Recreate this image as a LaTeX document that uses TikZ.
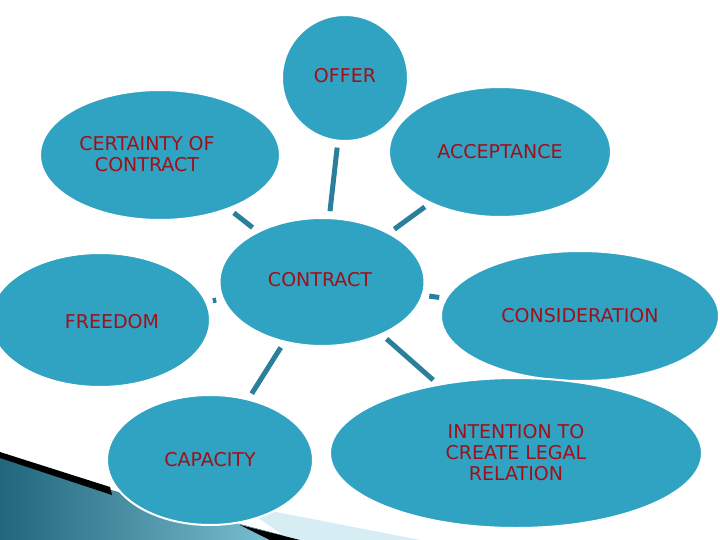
\documentclass[tikz,border=0pt]{standalone}
\usepackage{fontspec}
\setmainfont{DejaVu Sans}
\usetikzlibrary{shapes.geometric}
\definecolor{bub}{HTML}{2FA3C1}
\definecolor{lnk}{HTML}{2A7F9A}
\definecolor{txt}{HTML}{A0101A}
\begin{document}
\begin{tikzpicture}[x=1pt,y=-1pt,
  bubble/.style={ellipse,fill=bub,draw=white,line width=2pt,inner sep=0pt,text=txt,align=center,font=\fontsize{19}{21}\selectfont},
  link/.style={draw=lnk,line width=5pt,shorten <=6pt,shorten >=6pt}]
\useasboundingbox (0,0) rectangle (720,540);
\fill[white] (0,0) rectangle (720,540);
% decoration bottom-left
\fill[left color=lnk!80!black,right color=bub!60!white] (0,455) -- (110,490) -- (300,540) -- (0,540) -- cycle;
\fill[black] (0,452) -- (110,487) -- (112,495) -- (0,458) -- cycle;
\fill[bub!20!white] (240,505) -- (420,540) -- (290,540) -- cycle;
\fill[black] (240,525) -- (300,540) -- (270,540) -- cycle;
\node[bubble,minimum width=126pt,minimum height=126pt] (offer) at (345,78) {};
\node[text=txt,font=\fontsize{19}{21}\selectfont] at (345,76) {OFFER};
\node[bubble,minimum width=240pt,minimum height=130pt] (cert) at (160,155) {};
\node[text=txt,font=\fontsize{19}{21}\selectfont,align=center] at (147,154) {CERTAINTY OF\\CONTRACT};
\node[bubble,minimum width=222pt,minimum height=130pt] (acc) at (500,152) {ACCEPTANCE};
\node[bubble,minimum width=205pt,minimum height=128pt] (con) at (322,282) {};
\node[text=txt,font=\fontsize{19}{21}\selectfont] at (320,280) {CONTRACT};
\node[bubble,minimum width=220pt,minimum height=134pt] (free) at (100,320) {};
\node[text=txt,font=\fontsize{19}{21}\selectfont] at (112,322) {FREEDOM};
\node[bubble,minimum width=278pt,minimum height=130pt] (cons) at (580,316) {CONSIDERATION};
\node[bubble,minimum width=206pt,minimum height=130pt] (cap) at (210,460) {CAPACITY};
\node[bubble,minimum width=372pt,minimum height=150pt] (int) at (516,453) {};
\node[text=txt,font=\fontsize{19}{21}\selectfont,align=center] at (516,453) {INTENTION TO\\CREATE LEGAL\\RELATION};
\draw[link] (con) -- (offer);
\draw[link] (con) -- (cert);
\draw[link] (con) -- (acc);
\draw[link] (con) -- (free);
\draw[link] (con) -- (cons);
\draw[link] (con) -- (cap);
\draw[link] (con) -- (int);
\end{tikzpicture}
\end{document}
